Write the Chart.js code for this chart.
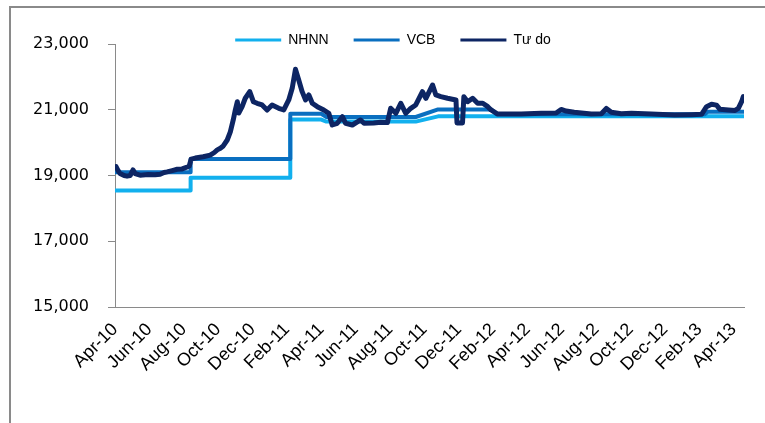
<!DOCTYPE html>
<html>
<head>
<meta charset="utf-8">
<script src="https://cdn.jsdelivr.net/npm/chart.js@4/dist/chart.umd.min.js"></script>
<style>
  html, body { margin: 0; padding: 0; background: #ffffff; }
  #frame { position: absolute; left: 9px; top: 6px; width: 800px; height: 500px;
           border-left: 2px solid #8a8a8a; border-top: 2px solid #8a8a8a; }
  #wrap { position: absolute; left: 0; top: 0; width: 765px; height: 423px; }
</style>
</head>
<body>
<div id="frame"></div>
<div id="wrap"><canvas id="c" width="765" height="423"></canvas></div>
<script>
// Tick labels (every two months, months counted from Apr-2010)
const tickLabels = ['Apr-10','Jun-10','Aug-10','Oct-10','Dec-10','Feb-11','Apr-11','Jun-11','Aug-11','Oct-11','Dec-11','Feb-12','Apr-12','Jun-12','Aug-12','Oct-12','Dec-12','Feb-13','Apr-13'];
const tickMonths = [0,2,4,6,8,10,12,14,16,18,20,22,24,26,28,30,32,34,36];
const seriesNames = ['NHNN', 'VCB', 'Tự do'];

// NHNN official rate (months since Apr-2010, VND/USD)
const nhnnMonths = [0, 4.4, 4.4, 10.2, 10.2, 12.0, 12.3, 17.5, 18.8, 36.6];
const nhnnValues = [18544, 18544, 18932, 18932, 20700, 20700, 20640, 20640, 20800, 20800];

// VCB selling rate
const vcbMonths = [0, 4.4, 4.4, 10.2, 10.2, 12.0, 12.3, 17.5, 18.8, 21.9, 22.2, 34.3, 34.5, 36.6];
const vcbValues = [19100, 19100, 19500, 19500, 20880, 20880, 20780, 20780, 21010, 21010, 20860, 20860, 20940, 20940];

// Free market rate
const tudoMonths = [0.06,0.18,0.29,0.53,0.70,0.88,1.05,1.17,1.46,1.93,2.33,2.63,2.86,3.03,3.33,3.62,3.91,4.2,4.32,4.43,4.67,5.13,5.54,5.78,5.95,6.13,6.30,6.53,6.71,6.88,7.00,7.12,7.20,7.39,7.58,7.84,8.05,8.27,8.56,8.85,9.14,9.53,9.82,10.11,10.31,10.5,10.69,10.89,11.09,11.28,11.48,11.77,12.15,12.44,12.64,12.93,13.23,13.42,13.81,14.29,14.49,15.05,15.46,15.85,16.04,16.34,16.63,16.92,17.21,17.5,17.89,18.09,18.48,18.67,18.96,19.35,19.84,19.9,20.22,20.3,20.52,20.81,21.1,21.4,21.69,21.88,22.27,23.63,24.8,25.67,25.96,26.25,26.72,27.71,28.3,28.59,28.88,29.46,30.05,31.2,32.56,33.55,34.13,34.42,34.71,35.0,35.2,35.69,36.08,36.27,36.46,36.56];
const tudoValues = [19270,19150,19060,19000,18980,19000,19170,19060,19010,19030,19020,19040,19090,19110,19150,19190,19200,19260,19290,19500,19530,19570,19620,19700,19780,19830,19900,20080,20330,20690,20990,21245,20900,21090,21350,21550,21245,21196,21145,20993,21145,21044,20993,21297,21652,22230,21905,21550,21297,21449,21196,21093,20993,20892,20536,20588,20789,20588,20536,20689,20588,20600,20620,20610,21044,20892,21196,20892,21044,21145,21550,21349,21753,21449,21398,21349,21297,20600,20600,21398,21245,21349,21196,21196,21093,20993,20870,20870,20890,20900,21010,20960,20923,20870,20880,21040,20923,20880,20890,20870,20840,20850,20860,21093,21166,21140,21014,20993,20980,21040,21245,21398];

const toPts = (xs, ys) => xs.map((m, i) => ({ x: m, y: ys[i] }));

const CHART_LEFT = 115, CHART_BOTTOM = 307, LEGEND_SHIFT = 21;

const legendShift = {
  id: 'legendShift',
  afterLayout(chart) {
    const lg = chart.legend;
    if (lg) { lg.left += LEGEND_SHIFT; lg.right += LEGEND_SHIFT; }
  }
};

new Chart(document.getElementById('c'), {
  type: 'line',
  data: {
    datasets: [
      { label: seriesNames[0], data: toPts(nhnnMonths, nhnnValues), borderColor: '#12b0ee', backgroundColor: '#12b0ee', borderWidth: 4, order: 2 },
      { label: seriesNames[1], data: toPts(vcbMonths, vcbValues), borderColor: '#0a6fc0', backgroundColor: '#0a6fc0', borderWidth: 4, order: 1 },
      { label: seriesNames[2], data: toPts(tudoMonths, tudoValues), borderColor: '#0d2563', backgroundColor: '#0d2563', borderWidth: 5, order: 0 }
    ]
  },
  plugins: [legendShift],
  options: {
    responsive: false,
    animation: false,
    devicePixelRatio: 1,
    layout: { padding: { left: 0, right: 21, top: 8, bottom: 0 } },
    elements: { point: { radius: 0 }, line: { tension: 0, borderJoinStyle: 'round', borderCapStyle: 'round' } },
    plugins: {
      tooltip: { enabled: false },
      legend: {
        position: 'top',
        maxHeight: 36,
        labels: {
          boxWidth: 46,
          boxHeight: 3,
          padding: 25,
          color: '#000',
          font: { family: 'Liberation Sans', size: 14 },
          sort: (a, b) => a.datasetIndex - b.datasetIndex,
          generateLabels: (chart) => Chart.defaults.plugins.legend.labels.generateLabels(chart)
            .map(it => Object.assign({}, it, { lineWidth: 0, fillStyle: it.strokeStyle }))
        }
      }
    },
    scales: {
      x: {
        type: 'linear',
        min: 0,
        max: 36.6,
        afterBuildTicks: (s) => { s.ticks = tickMonths.map(v => ({ value: v })); },
        afterFit: (s) => { s.height = 423 - CHART_BOTTOM; },
        grid: { display: false },
        border: { display: true, color: '#8a8a8a', width: 1 },
        ticks: {
          autoSkip: false,
          minRotation: 45,
          maxRotation: 45,
          padding: 4,
          color: '#000',
          font: { family: 'Liberation Sans', size: 18 },
          callback: (v) => { const i = tickMonths.indexOf(v); return i >= 0 ? tickLabels[i] : ''; }
        }
      },
      y: {
        min: 15000,
        max: 23000,
        afterFit: (s) => { s.width = CHART_LEFT; },
        grid: { drawOnChartArea: false, drawTicks: true, tickLength: 7, color: '#8a8a8a' },
        border: { display: true, color: '#8a8a8a', width: 1 },
        ticks: {
          stepSize: 2000,
          padding: 19,
          color: '#000',
          font: { family: 'DejaVu Sans', size: 16 },
          callback: (v) => v.toLocaleString('en-US')
        }
      }
    }
  }
});
</script>
</body>
</html>
